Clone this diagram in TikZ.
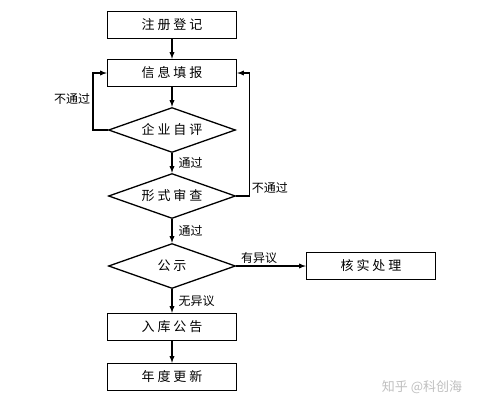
\documentclass[tikz,border=0pt]{standalone}
\usepackage{fontspec}
\newfontfamily\cjk{Noto Sans CJK SC}
\usetikzlibrary{shapes.geometric,positioning}

\tikzset{
  stepbox/.style={draw,line width=1.3pt,minimum width=129pt,minimum height=27pt,font=\cjk\fontsize{13}{13}\selectfont},
  check/.style={draw,diamond,aspect=2.8,line width=1.3pt,minimum width=127pt,minimum height=45pt,inner sep=0pt,font=\cjk\fontsize{13}{13}\selectfont},
  lbl/.style={font=\cjk\fontsize{12}{12}\selectfont,inner sep=2pt}
}

\begin{document}
\begin{tikzpicture}[x=1pt,y=-1pt,node distance=50pt,on grid,->,>=latex,line width=1.3pt]
\useasboundingbox (0,0) rectangle (479,410);
\node[stepbox] (reg) at (172,25) {注\ 册\ 登\ 记};
\node[stepbox] (fill) [below=48pt of reg] {信\ 息\ 填\ 报};
\node[check] (self) [below=57pt of fill] {企\ 业\ 自\ 评};
\node[check] (form) [below=66pt of self] {形\ 式\ 审\ 查};
\node[check] (pub) [below=70pt of form] {公\ 示};
\node[stepbox] (deal) [right=199pt of pub] {核\ 实\ 处\ 理};
\node[stepbox] (store) [below=61pt of pub] {入\ 库\ 公\ 告};
\node[stepbox] (year) [below=50pt of store] {年\ 度\ 更\ 新};
\path
(reg) edge (fill)
(fill) edge (self)
(self) edge node[lbl,right,xshift=4pt] {通过} (form)
(form) edge node[lbl,right,xshift=4pt] {通过} (pub)
(pub) edge node[lbl,above,pos=0.33] {有异议} (deal)
(pub) edge node[lbl,right,xshift=4pt] {无异议} (store)
(store) edge (year);
% loops back
\draw (self.west) -- ++(-15,0) |- node[lbl,pos=0.25,left,yshift=3pt] {不通过} (fill.west);
\draw (form.east) -- ++(13,0) node[lbl,above right,-] {不通过} |- (fill.east);
\node[font=\cjk\fontsize{13}{13}\selectfont,text=black!25] (mark) at (422,387) {知乎 @科创海};
\end{tikzpicture}
\end{document}
